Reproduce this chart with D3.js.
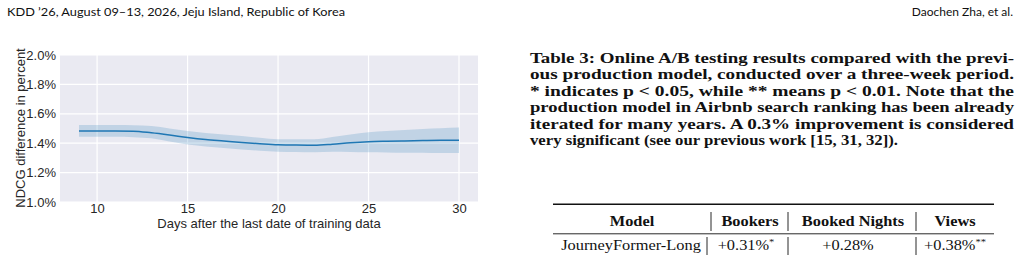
<!DOCTYPE html>
<html>
<head>
<meta charset="utf-8">
<script src="https://cdn.jsdelivr.net/npm/d3@7"></script>
<style>
  body { margin: 0; background: #fff; }
  svg { display: block; }
</style>
</head>
<body>
<script>
'use strict';

// days after the last training date
const days = [9, 10, 11, 12, 13, 14, 15, 16, 17, 18, 19, 20, 21, 22, 23, 24, 25, 26, 27, 28, 29, 30];
// mean NDCG difference (percent)
const meanDiff = [1.483, 1.483, 1.483, 1.482, 1.471, 1.456, 1.439, 1.425, 1.415, 1.405, 1.397, 1.390,
                  1.387, 1.386, 1.393, 1.403, 1.410, 1.413, 1.415, 1.418, 1.420, 1.420];
// confidence band
const upperDiff = [1.524, 1.524, 1.524, 1.522, 1.517, 1.500, 1.483, 1.469, 1.459, 1.449, 1.437, 1.427,
                   1.427, 1.427, 1.442, 1.459, 1.474, 1.483, 1.490, 1.497, 1.502, 1.506];
const lowerDiff = [1.444, 1.444, 1.444, 1.441, 1.433, 1.412, 1.391, 1.378, 1.367, 1.357, 1.349, 1.342,
                   1.340, 1.338, 1.342, 1.340, 1.338, 1.337, 1.335, 1.335, 1.333, 1.333];

const xTicks = [10, 15, 20, 25, 30];
const yTicks = [1.0, 1.2, 1.4, 1.6, 1.8, 2.0];

const captionLines = [
    "Table 3: Online A/B testing results compared with the previ-",
    "ous production model, conducted over a three-week period.",
    "* indicates p < 0.05, while ** means p < 0.01. Note that the",
    "production model in Airbnb search ranking has been already",
    "iterated for many years. A 0.3% improvement is considered",
    "very significant (see our previous work [15, 31, 32])."
];

const tableHeader = ["Model", "Bookers", "Booked Nights", "Views"];
const tableRow = ["JourneyFormer-Long", "+0.31%", "+0.28%", "+0.38%"];
const rowMarks = ["", "*", "", "**"];

const svg = d3.select('body').append('svg')
    .attr('width', 1023)
    .attr('height', 257);

// page header
svg.append('text')
    .attr('x', 7).attr('y', 16)
    .style('font-family', 'Lato, sans-serif')
    .style('font-size', '12px')
    .attr('fill', '#111')
    .attr('textLength', 338)
    .attr('lengthAdjust', 'spacingAndGlyphs')
    .text("KDD \u201926, August 09\u201313, 2026, Jeju Island, Republic of Korea");

svg.append('text')
    .attr('x', 1013).attr('y', 16)
    .attr('text-anchor', 'end')
    .style('font-family', 'Lato, sans-serif')
    .style('font-size', '12px')
    .attr('fill', '#111')
    .text("Daochen Zha, et al.");

// ---- chart ----
const plot = { left: 60, right: 478, top: 55, bottom: 202 };

const xScale = d3.scaleLinear().domain([7.95, 31.05]).range([plot.left, plot.right]);
const yScale = d3.scaleLinear().domain([1.0, 2.0]).range([plot.bottom, plot.top]);

svg.append('rect')
    .attr('x', plot.left).attr('y', plot.top)
    .attr('width', plot.right - plot.left)
    .attr('height', plot.bottom - plot.top)
    .attr('fill', '#eaeaf2');

// grid lines
svg.append('g').selectAll('line')
    .data(xTicks).enter().append('line')
    .attr('x1', d => xScale(d)).attr('x2', d => xScale(d))
    .attr('y1', plot.top).attr('y2', plot.bottom)
    .attr('stroke', '#fff').attr('stroke-width', 1.2);

svg.append('g').selectAll('line')
    .data(yTicks).enter().append('line')
    .attr('x1', plot.left).attr('x2', plot.right)
    .attr('y1', d => yScale(d)).attr('y2', d => yScale(d))
    .attr('stroke', '#fff').attr('stroke-width', 1.2);

const series = days.map((d, i) => ({ day: d, mean: meanDiff[i], lo: lowerDiff[i], hi: upperDiff[i] }));

const band = d3.area()
    .x(d => xScale(d.day))
    .y0(d => yScale(d.lo))
    .y1(d => yScale(d.hi))
    .curve(d3.curveMonotoneX);

svg.append('path')
    .datum(series)
    .attr('d', band)
    .attr('fill', '#1f77b4')
    .attr('fill-opacity', 0.2);

const meanLine = d3.line()
    .x(d => xScale(d.day))
    .y(d => yScale(d.mean))
    .curve(d3.curveMonotoneX);

svg.append('path')
    .datum(series)
    .attr('d', meanLine)
    .attr('fill', 'none')
    .attr('stroke', '#1f77b4')
    .attr('stroke-width', 1.5);

// axes (no domain, no tick marks - seaborn darkgrid style)
const xAxis = svg.append('g')
    .attr('transform', `translate(0, ${plot.bottom})`)
    .call(d3.axisBottom(xScale).tickValues(xTicks).tickSize(0).tickPadding(2));
const yAxis = svg.append('g')
    .attr('transform', `translate(${plot.left}, 0)`)
    .call(d3.axisLeft(yScale).tickValues(yTicks).tickSize(0).tickPadding(4)
        .tickFormat(d => d3.format('.1f')(d) + '%'));

[xAxis, yAxis].forEach(a => {
    a.select('.domain').remove();
    a.selectAll('text')
        .style('font-family', '"Liberation Sans", Arial, sans-serif')
        .style('font-size', '13px')
        .attr('fill', '#262626');
});

svg.append('text')
    .attr('x', (plot.left + plot.right) / 2)
    .attr('y', 228)
    .attr('text-anchor', 'middle')
    .style('font-family', '"Liberation Sans", Arial, sans-serif')
    .style('font-size', '13px')
    .attr('fill', '#262626')
    .text('Days after the last date of training data');

svg.append('text')
    .attr('transform', 'translate(25, 128) rotate(-90)')
    .attr('text-anchor', 'middle')
    .style('font-family', '"Liberation Sans", Arial, sans-serif')
    .style('font-size', '13px')
    .attr('fill', '#262626')
    .text('NDCG difference in percent');

// ---- caption (justified) ----
const capLeft = 530, capRight = 1014, lastLineWidth = 368;
captionLines.forEach((line, i) => {
    const last = i === captionLines.length - 1;
    svg.append('text')
        .attr('x', capLeft)
        .attr('y', 62.5 + i * 16.5)
        .style('font-family', '"Liberation Serif", "Times New Roman", serif')
        .style('font-weight', 'bold')
        .style('font-size', '15.5px')
        .attr('fill', '#111')
        .attr('textLength', last ? lastLineWidth : capRight - capLeft)
        .attr('lengthAdjust', 'spacingAndGlyphs')
        .text(line);
});

// ---- table ----
const colCenters = [632, 750, 853, 955];
const rowCenters = [631, 746, 848, 955];
const headSeps = [711, 788, 916];
const rowSeps = [707, 788, 916];
const stretch = 1.17;

svg.append('line')
    .attr('x1', 553).attr('x2', 994)
    .attr('y1', 204.3).attr('y2', 204.3)
    .attr('stroke', '#111').attr('stroke-width', 1.5);
svg.append('line')
    .attr('x1', 553).attr('x2', 994)
    .attr('y1', 233.8).attr('y2', 233.8)
    .attr('stroke', '#111').attr('stroke-width', 0.9);

svg.append('g').selectAll('text')
    .data(tableHeader).enter().append('text')
    .attr('transform', (d, i) => `translate(${colCenters[i]}, 226) scale(${stretch}, 1)`)
    .attr('text-anchor', 'middle')
    .style('font-family', '"Liberation Serif", "Times New Roman", serif')
    .style('font-weight', 'bold')
    .style('font-size', '14px')
    .attr('fill', '#111')
    .text(d => d);

const rowText = svg.append('g').selectAll('text')
    .data(tableRow).enter().append('text')
    .attr('transform', (d, i) => `translate(${rowCenters[i]}, 250) scale(${stretch}, 1)`)
    .attr('text-anchor', 'middle')
    .style('font-family', '"Liberation Serif", "Times New Roman", serif')
    .style('font-size', '14px')
    .attr('fill', '#111');
rowText.append('tspan').text(d => d);
rowText.append('tspan')
    .attr('dy', -5)
    .style('font-size', '9px')
    .text((d, i) => rowMarks[i]);

svg.append('g').selectAll('line')
    .data(headSeps).enter().append('line')
    .attr('x1', d => d).attr('x2', d => d)
    .attr('y1', 212).attr('y2', 231)
    .attr('stroke', '#111').attr('stroke-width', 0.9);
svg.append('g').selectAll('line')
    .data(rowSeps).enter().append('line')
    .attr('x1', d => d).attr('x2', d => d)
    .attr('y1', 237).attr('y2', 255)
    .attr('stroke', '#111').attr('stroke-width', 0.9);
</script>
</body>
</html>
